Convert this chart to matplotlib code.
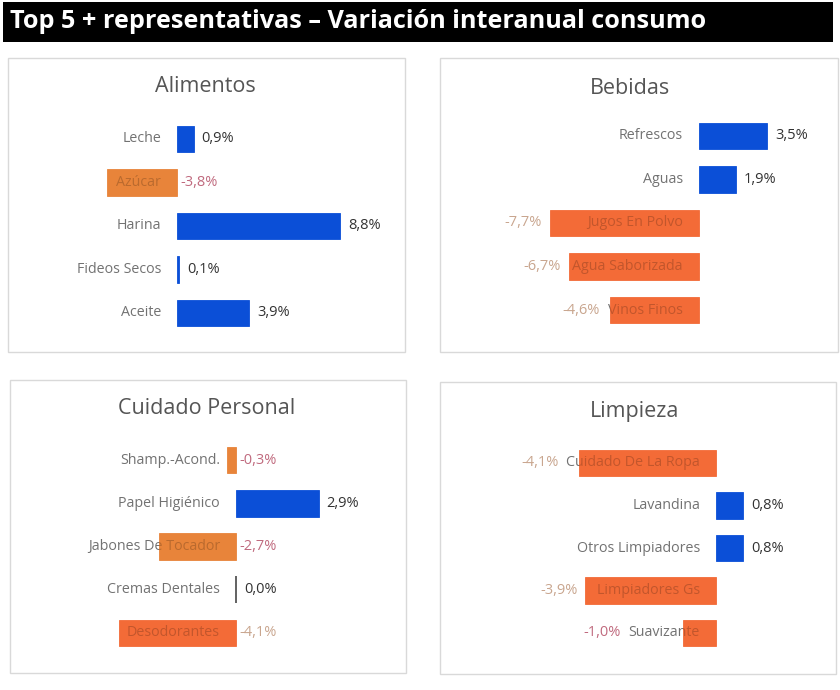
import matplotlib
matplotlib.use("Agg")
import matplotlib.pyplot as plt
import matplotlib.colors as mcolors
from matplotlib.patches import Rectangle
from matplotlib.transforms import offset_copy, Bbox, TransformedBbox

plt.rcParams['font.family'] = ['Open Sans', 'DejaVu Sans']

# ---- data -------------------------------------------------------------
TITLE = "Top 5 + representativas – Variación interanual consumo"

alimentos_cats = ["Leche", "Azúcar", "Harina", "Fideos Secos", "Aceite"]
alimentos_vals = [0.9, -3.8, 8.8, 0.1, 3.9]

bebidas_cats = ["Refrescos", "Aguas", "Jugos En Polvo", "Agua Saborizada", "Vinos Finos"]
bebidas_vals = [3.5, 1.9, -7.7, -6.7, -4.6]

cuidado_cats = ["Shamp.-Acond.", "Papel Higiénico", "Jabones De Tocador",
                "Cremas Dentales", "Desodorantes"]
cuidado_vals = [-0.3, 2.9, -2.7, 0.0, -4.1]

limpieza_cats = ["Cuidado De La Ropa", "Lavandina", "Otros Limpiadores",
                 "Limpiadores Gs", "Suavizante"]
limpieza_vals = [-4.1, 0.8, 0.8, -3.9, -1.0]

# ---- styles -----------------------------------------------------------
BLUE = '#0b4fd7'
AMBER = '#e8843a'
RED_ORANGE = '#f36b37'
PINK_TXT = '#c06a7e'
TAN_TXT = '#c9a68f'
CAT_TXT = '#727272'
BAR_H = 0.62

# negative bar colour per panel (amber for the lighter drops)
neg_colors = {
    "Alimentos": [AMBER] * 5,
    "Bebidas": [RED_ORANGE] * 5,
    "Cuidado Personal": [AMBER, AMBER, AMBER, AMBER, RED_ORANGE],
    "Limpieza": [RED_ORANGE] * 5,
}

W, H = 840, 690
fig = plt.figure(figsize=(W / 100, H / 100), dpi=100)
fig.patch.set_facecolor('white')


def fx(px):
    return px / W


def fy(py):
    return 1 - py / H


# title bar
fig.patches.append(Rectangle((fx(3), fy(42)), fx(830), 40 / H, transform=fig.transFigure,
                             facecolor='black', edgecolor='none', zorder=-1))
fig.text(fx(10), fy(21), TITLE, color='white', fontsize=18.2, fontweight='bold',
         va='center', ha='left')

# panel layout: box (x0, y0, x1, y1), title centre, first/last row centre, zero px, px per unit, label mode
panels = [
    ("Alimentos", alimentos_cats, alimentos_vals,
     (8, 58, 405, 352), (205, 86), (139, 313), 177, 18.5, 'inside'),
    ("Bebidas", bebidas_cats, bebidas_vals,
     (440, 58, 838, 352), (630, 88), (136, 310), 699, 19.4, 'outside'),
    ("Cuidado Personal", cuidado_cats, cuidado_vals,
     (10, 380, 406, 673), (207, 408), (460, 633), 236, 28.5, 'inside'),
    ("Limpieza", limpieza_cats, limpieza_vals,
     (440, 382, 836, 674), (635, 411), (463, 633), 716, 33.5, 'outside'),
]

pending = []
for name, cats, vals, box, tpos, rows, zero, scale, mode in panels:
    x0, y0, x1, y1 = box
    fig.patches.append(Rectangle((fx(x0), fy(y1)), fx(x1 - x0), (y1 - y0) / H,
                                 transform=fig.transFigure, facecolor='none',
                                 edgecolor='#d9d9d9', linewidth=1.0, zorder=-1))
    fig.text(fx(tpos[0]), fy(tpos[1]), name, color='#555555', fontsize=15.5,
             ha='center', va='center')

    n = len(cats)
    sp = (rows[1] - rows[0]) / (n - 1)
    top = rows[0] - sp / 2
    bot = rows[1] + sp / 2
    ax = fig.add_axes([fx(x0 + 1), fy(bot), fx(x1 - x0 - 2), (bot - top) / H])
    ax.set_xlim((x0 + 1 - zero) / scale, (x1 - 1 - zero) / scale)
    ax.set_ylim(n - 0.5, -0.5)
    ax.axis('off')

    colors = []
    for i, v in enumerate(vals):
        colors.append(BLUE if v >= 0 else neg_colors[name][i])
    bars = ax.barh(range(n), vals, height=BAR_H, color=colors,
                   edgecolor=colors, linewidth=0.6, zorder=3)
    for b, v in zip(bars, vals):
        if v == 0:
            b.set_edgecolor('#555555')
            b.set_linewidth(1.3)

    lab_tr = offset_copy(ax.transData, fig=fig, x=-16, y=0, units='dots')
    cat_texts = []
    for i, c in enumerate(cats):
        t = ax.text(0, i, c, transform=lab_tr, ha='right', va='center',
                    fontsize=10.3, color=CAT_TXT, zorder=2)
        cat_texts.append(t)
        if vals[i] < 0:
            # label shows through the orange bar as a darker shade
            dark = tuple(ch * 0.8 for ch in mcolors.to_rgb(colors[i]))
            t2 = ax.text(0, i, c, transform=lab_tr, ha='right', va='center',
                         fontsize=10.3, color=dark, zorder=4)
            clip = TransformedBbox(Bbox.from_extents(vals[i], i - BAR_H / 2, 0, i + BAR_H / 2),
                                   ax.transData)
            t2.set_clip_box(clip)
            t2.set_clip_on(True)

    for i, v in enumerate(vals):
        s = f"{v:.1f}%".replace('.', ',')
        if v >= 0:
            tr = offset_copy(ax.transData, fig=fig, x=8, y=0, units='dots')
            ax.text(v, i, s, transform=tr, ha='left', va='center', fontsize=10.5,
                    color='#333333', zorder=4)
        else:
            col = PINK_TXT if v > -3.85 else TAN_TXT
            if mode == 'inside':
                tr = offset_copy(ax.transData, fig=fig, x=3, y=0, units='dots')
                ax.text(0, i, s, transform=tr, ha='left', va='center', fontsize=10.5,
                        color=col, zorder=4)
            else:
                pending.append((ax, cat_texts[i], v, i, s, col))

# outside labels for negatives: left of whichever comes first, bar end or category label
fig.canvas.draw()
for ax, ct, v, i, s, col in pending:
    lab_x0 = ct.get_window_extent().x0
    bar_x0 = ax.transData.transform((v, i))[0]
    xpos = min(lab_x0, bar_x0) - 8
    xd = ax.transData.inverted().transform((xpos, 0))[0]
    ax.text(xd, i, s, ha='right', va='center', fontsize=10.5, color=col, zorder=4)

fig.savefig('out.png', dpi=100)
